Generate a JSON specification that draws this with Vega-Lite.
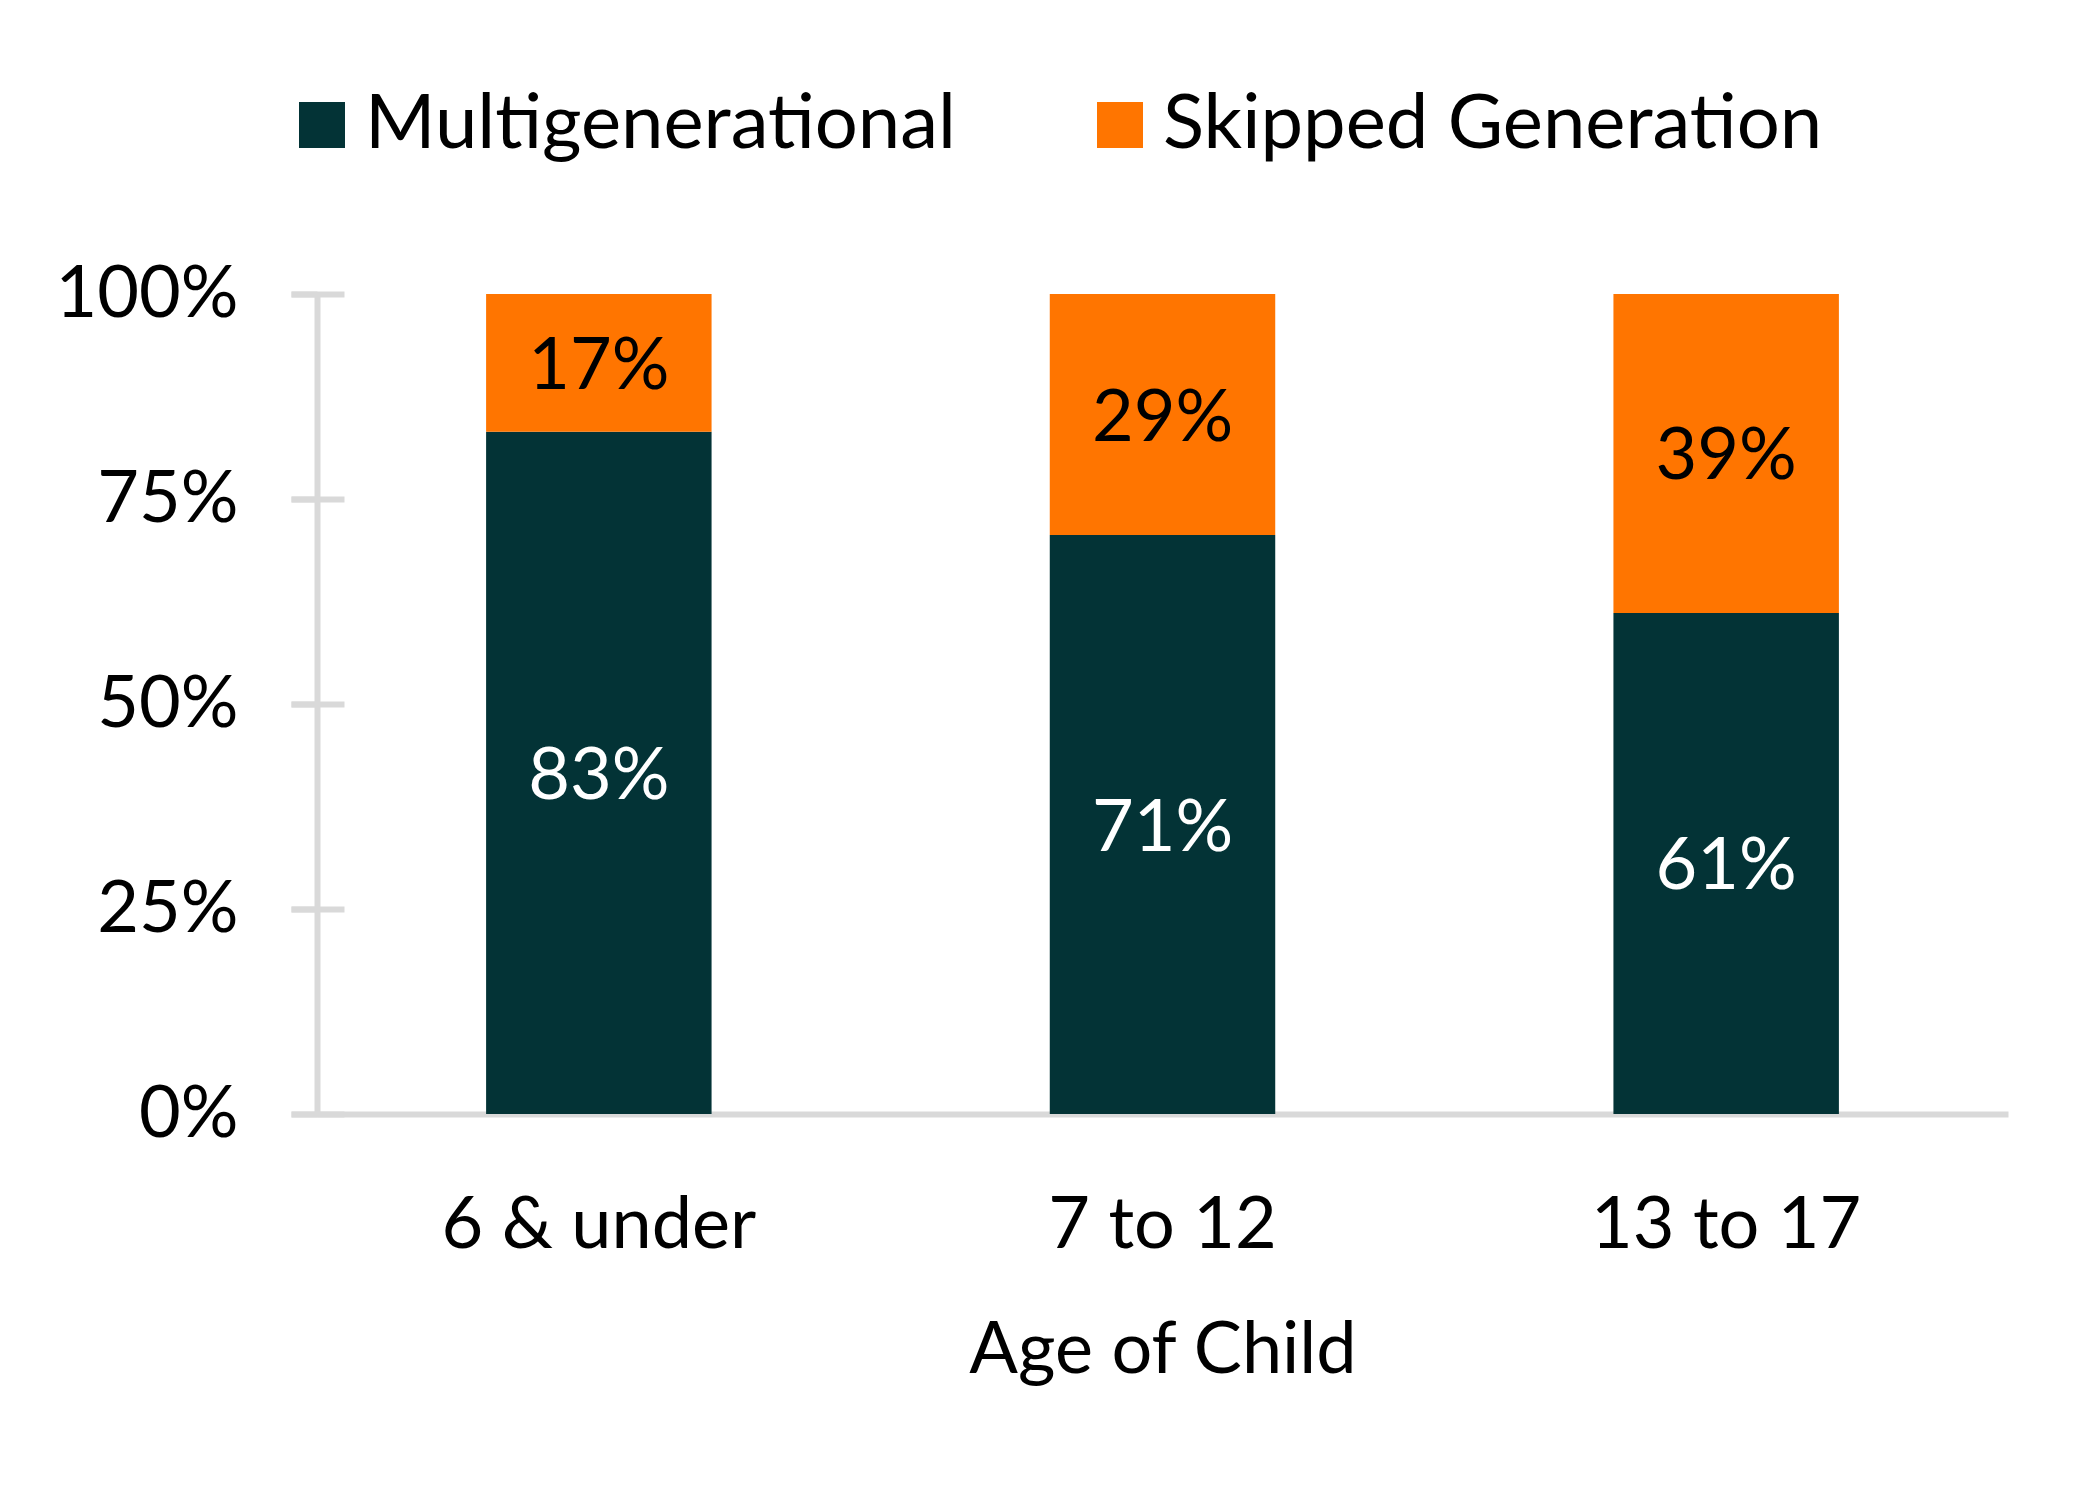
{
  "$schema": "https://vega.github.io/schema/vega-lite/v6.json",
  "autosize": {"type": "none"},
  "width": 1691,
  "height": 820,
  "padding": {"left": 317, "top": 294, "right": 92, "bottom": 386},
  "background": "white",
  "config": {
    "view": {"stroke": null},
    "font": "Lato",
    "text": {"font": "Lato"}
  },
  "data": {
    "values": [
      {"age": "6 & under", "series": "Multigenerational", "value": 0.832},
      {"age": "6 & under", "series": "Skipped Generation", "value": 0.168},
      {"age": "7 to 12", "series": "Multigenerational", "value": 0.706},
      {"age": "7 to 12", "series": "Skipped Generation", "value": 0.294},
      {"age": "13 to 17", "series": "Multigenerational", "value": 0.611},
      {"age": "13 to 17", "series": "Skipped Generation", "value": 0.389}
    ]
  },
  "encoding": {
    "x": {
      "field": "age",
      "type": "nominal",
      "sort": ["6 & under", "7 to 12", "13 to 17"],
      "scale": {"paddingInner": 0.6, "paddingOuter": 0.3},
      "title": "Age of Child",
      "axis": {
        "labelAngle": 0,
        "labelFont": "Lato",
        "labelFontSize": 72,
        "labelColor": "#000000",
        "labelPadding": 76,
        "labelLimit": 1000,
        "ticks": false,
        "domainColor": "#D9D9D9",
        "domainWidth": 6,
        "titleFont": "Lato",
        "titleFontSize": 72,
        "titleFontWeight": "normal",
        "titleColor": "#000000",
        "titlePadding": 54
      }
    }
  },
  "layer": [
    {
      "mark": {"type": "bar"},
      "encoding": {
        "y": {
          "field": "value",
          "type": "quantitative",
          "stack": "zero",
          "scale": {"domain": [0, 1], "nice": false},
          "axis": {
            "title": null,
            "format": ".0%",
            "values": [0, 0.25, 0.5, 0.75, 1],
            "grid": false,
            "labelFont": "Lato",
            "labelFontSize": 72,
            "labelColor": "#000000",
            "labelPadding": 53,
            "labelLimit": 1000,
            "tickSize": 26,
            "tickWidth": 6,
            "tickColor": "#D9D9D9",
            "domainColor": "#D9D9D9",
            "domainWidth": 6
          }
        },
        "order": {"field": "series", "sort": "ascending"},
        "color": {
          "field": "series",
          "type": "nominal",
          "scale": {"domain": ["Multigenerational", "Skipped Generation"], "range": ["#033336", "#FF7500"]},
          "legend": {
            "title": null,
            "orient": "none",
            "legendX": -33,
            "legendY": -207,
            "padding": 0,
            "direction": "horizontal",
            "columns": 2,
            "symbolType": "square",
            "symbolSize": 2116,
            "symbolStrokeWidth": 0,
            "labelFont": "Lato",
            "labelFontSize": 76,
            "labelColor": "#000000",
            "labelOffset": 5,
            "columnPadding": 126,
            "labelLimit": 1000
          }
        }
      }
    },
    {
      "mark": {"type": "text", "font": "Lato", "fontSize": 72, "baseline": "middle", "align": "center", "dy": 4},
      "encoding": {
        "y": {
          "field": "value",
          "type": "quantitative",
          "stack": "zero",
          "bandPosition": 0.5,
          "axis": {
            "orient": "left",
            "offset": -27,
            "title": null,
            "labels": false,
            "domain": false,
            "grid": false,
            "values": [0, 0.25, 0.5, 0.75, 1],
            "tickSize": 53,
            "tickWidth": 6,
            "tickColor": "#D9D9D9"
          }
        },
        "detail": {"field": "series"},
        "order": {"field": "series", "sort": "ascending"},
        "text": {"field": "value", "type": "quantitative", "format": ".0%"},
        "color": {
          "condition": {"test": "datum.series === 'Multigenerational'", "value": "#FFFFFF"},
          "value": "#000000"
        }
      }
    }
  ],
  "resolve": {"axis": {"y": "independent"}}
}
